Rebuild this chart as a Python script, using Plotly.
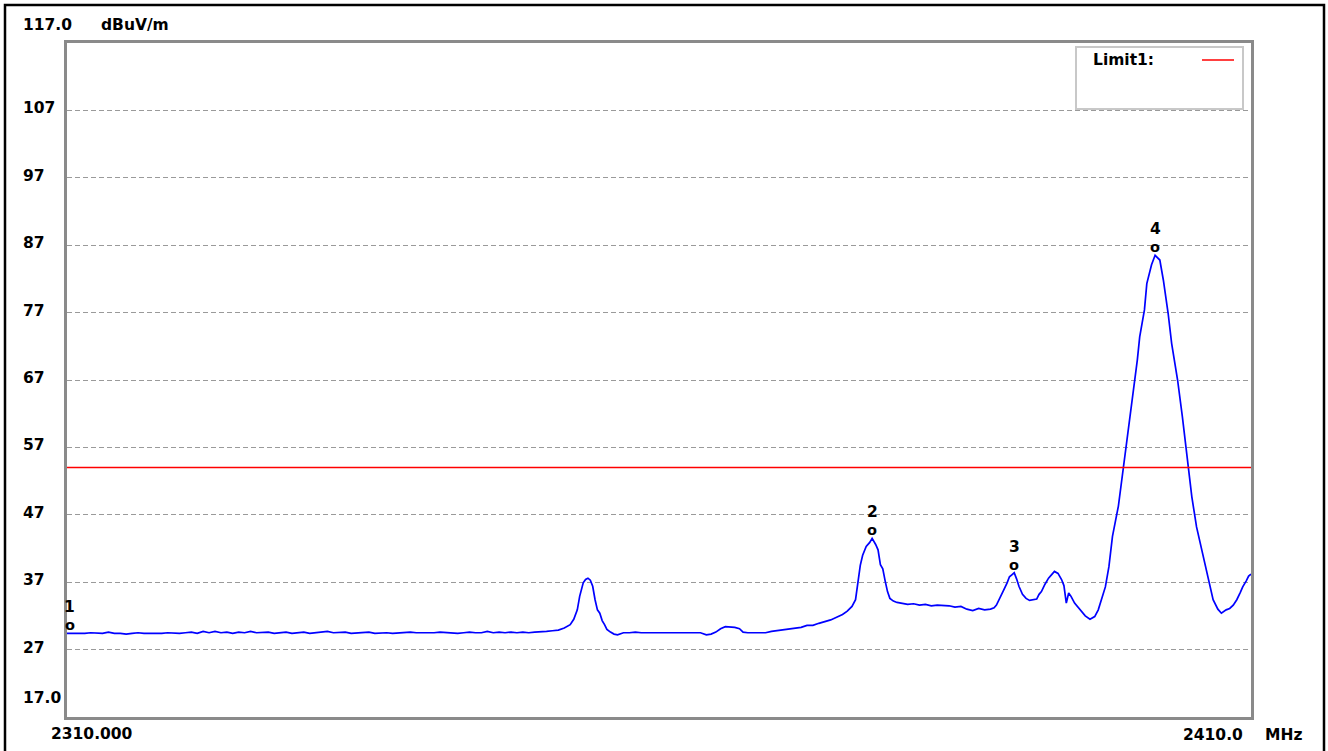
import plotly.graph_objects as go

# ---------------- data ----------------
freq_mhz = [
    2310.0, 2310.5, 2311.0, 2311.5, 2312.0, 2312.5, 2313.0, 2313.5, 2314.0, 2314.5,
    2315.0, 2315.5, 2316.0, 2316.5, 2317.0, 2317.5, 2318.0, 2318.5, 2319.0, 2319.5,
    2320.0, 2320.5, 2321.0, 2321.5, 2322.0, 2322.5, 2323.0, 2323.5, 2324.0, 2324.5,
    2325.0, 2325.5, 2326.0, 2326.5, 2327.0, 2327.5, 2328.0, 2328.5, 2329.0, 2329.5,
    2330.0, 2330.5, 2331.0, 2331.5, 2332.0, 2332.5, 2333.0, 2333.5, 2334.0, 2334.5,
    2335.0, 2335.5, 2336.0, 2336.5, 2337.0, 2337.5, 2338.0, 2338.5, 2339.0, 2339.5,
    2340.0, 2340.5, 2341.0, 2341.5, 2342.0, 2342.5, 2343.0, 2343.5, 2344.0, 2344.5,
    2345.0, 2345.5, 2346.0, 2346.5, 2347.0, 2347.5, 2348.0, 2348.5, 2349.0, 2349.5,
    2350.0, 2350.5, 2351.0, 2351.5,
    2352.0, 2352.5, 2352.8, 2353.1, 2353.3, 2353.6, 2353.8, 2354.0, 2354.2, 2354.4,
    2354.6, 2354.8, 2355.0, 2355.2, 2355.4, 2355.6, 2355.9, 2356.2, 2356.5,
    2357.0, 2357.5, 2358.0, 2358.5, 2359.0, 2359.5, 2360.0, 2360.5, 2361.0, 2361.5,
    2362.0, 2362.5, 2363.0, 2363.5, 2364.0, 2364.4, 2364.8, 2365.2, 2365.6, 2366.0,
    2366.4, 2366.8, 2367.1, 2367.5, 2368.0, 2368.5, 2369.0, 2369.5, 2370.0, 2370.5,
    2371.0, 2371.5, 2372.0, 2372.5, 2373.0, 2373.5, 2374.0, 2374.5, 2375.0, 2375.5,
    2375.9, 2376.3, 2376.6, 2376.8, 2377.0, 2377.2, 2377.5, 2377.8, 2378.0, 2378.3,
    2378.5, 2378.7, 2378.9, 2379.1, 2379.3, 2379.5, 2379.8, 2380.1, 2380.5, 2381.0,
    2381.5, 2382.0, 2382.5, 2383.0, 2383.5, 2384.0, 2384.5, 2385.0, 2385.5, 2386.0,
    2386.5, 2387.0, 2387.5, 2388.0, 2388.3, 2388.5, 2388.8, 2389.1, 2389.4, 2389.6,
    2389.8, 2390.0, 2390.2, 2390.4, 2390.7, 2391.0, 2391.3, 2391.6, 2391.9, 2392.1,
    2392.3, 2392.6, 2392.9, 2393.2, 2393.4, 2393.7, 2394.0, 2394.2, 2394.4, 2394.6,
    2394.8, 2395.1, 2395.4, 2395.7, 2396.0, 2396.4, 2396.8, 2397.1, 2397.4, 2397.7,
    2398.0, 2398.3, 2398.8, 2399.2, 2399.6, 2400.0, 2400.4, 2400.6, 2401.0, 2401.2,
    2401.6, 2401.9, 2402.3, 2402.6, 2403.0, 2403.3, 2403.8, 2404.2, 2404.6, 2405.0,
    2405.4, 2405.9, 2406.3, 2406.8, 2407.2, 2407.5, 2407.9, 2408.2, 2408.5, 2408.8,
    2409.1, 2409.3, 2409.6, 2409.8, 2410.0,
]
level_dbuv = [
    29.4, 29.4, 29.3, 29.4, 29.5, 29.4, 29.4, 29.6, 29.4, 29.4,
    29.3, 29.4, 29.5, 29.4, 29.4, 29.3, 29.4, 29.5, 29.4, 29.4,
    29.5, 29.6, 29.4, 29.7, 29.5, 29.7, 29.5, 29.6, 29.4, 29.6,
    29.5, 29.7, 29.5, 29.5, 29.6, 29.4, 29.5, 29.6, 29.4, 29.5,
    29.6, 29.4, 29.5, 29.5, 29.7, 29.5, 29.5, 29.6, 29.4, 29.5,
    29.5, 29.6, 29.4, 29.5, 29.5, 29.4, 29.5, 29.5, 29.6, 29.5,
    29.5, 29.4, 29.5, 29.6, 29.5, 29.5, 29.4, 29.5, 29.6, 29.5,
    29.5, 29.7, 29.5, 29.6, 29.5, 29.6, 29.5, 29.6, 29.5, 29.6,
    29.6, 29.7, 29.8, 29.9,
    30.2, 30.7, 31.5, 32.9, 34.9, 36.9, 37.4, 37.6, 37.3, 36.4,
    34.4, 32.9, 32.4, 31.3, 30.7, 30.0, 29.6, 29.3, 29.2,
    29.5, 29.5, 29.6, 29.5, 29.5, 29.6, 29.5, 29.6, 29.5, 29.5,
    29.5, 29.5, 29.5, 29.5, 29.2, 29.3, 29.6, 30.1, 30.4, 30.4,
    30.3, 30.1, 29.6, 29.5, 29.5, 29.4, 29.5, 29.7, 29.8, 30.0,
    30.0, 30.2, 30.3, 30.6, 30.6, 30.9, 31.1, 31.4, 31.8, 32.2,
    32.7, 33.4, 34.4, 37.0, 39.5, 41.0, 42.3, 42.9, 43.5, 42.6,
    41.8, 39.6, 39.0, 37.2, 35.6, 34.6, 34.2, 34.0, 33.9, 33.7,
    33.8, 33.6, 33.7, 33.5, 33.6, 33.6, 33.5, 33.3, 33.4, 33.0,
    32.8, 33.1, 32.9, 33.0, 33.2, 33.6, 34.6, 35.8, 36.9, 37.8,
    38.1, 38.4, 37.5, 36.4, 35.2, 34.6, 34.3, 34.4, 34.5, 35.2,
    35.6, 36.7, 37.6, 38.2, 38.6, 38.3, 37.4, 36.5, 33.9, 35.4,
    34.9, 33.9, 33.3, 32.6, 32.0, 31.5, 31.9, 32.9, 34.5, 36.3,
    39.3, 43.8, 48.3, 53.8, 58.7, 64.0, 70.0, 73.4, 77.4, 81.3,
    84.1, 85.5, 84.8, 81.8, 76.9, 72.4, 67.0, 61.6, 55.6, 49.7,
    45.2, 41.3, 37.8, 34.4, 33.0, 32.4, 32.9, 33.1, 33.6, 34.4,
    35.5, 36.3, 37.2, 37.9, 38.2,
]

limit_freq = [2310.0, 2410.0]
limit_level = [54.0, 54.0]
limit_name = "Limit1:"

marker_ids = ["1", "2", "3", "4"]
marker_freq = [2310.25, 2378.0, 2390.0, 2401.9]
marker_level = [29.4, 43.5, 38.4, 85.5]

y_range = [17.0, 117.0]
y_grid_ticks = [27, 37, 47, 57, 67, 77, 87, 97, 107]
y_tick_labels = ["27", "37", "47", "57", "67", "77", "87", "97", "107"]
y_bottom_label = "17.0"
y_top_label = "117.0"
y_unit = "dBuV/m"
x_range = [2310.0, 2410.0]
x_start_label = "2310.000"
x_end_label = "2410.0"
x_unit = "MHz"

# ---------------- layout helpers ----------------
W, H = 1328, 751
L, R, T, B = 67, 1251, 43, 717


def px(x):
    return (x - L) / (R - L)


def py(y):
    return (B - y) / (B - T)


FONT = "DejaVu Sans"
TXT = dict(family=FONT, size=15.5, color="#000000")

fig = go.Figure()

fig.add_trace(go.Scatter(
    x=freq_mhz, y=level_dbuv, mode="lines",
    line=dict(color="#0000ff", width=1.7), hoverinfo="skip", showlegend=False,
))
fig.add_trace(go.Scatter(
    x=limit_freq, y=limit_level, mode="lines",
    line=dict(color="#ff0000", width=1.5), hoverinfo="skip", showlegend=False,
))

annotations = []
# marker labels ("o" and number above)
for mid, mf, ml in zip(marker_ids, marker_freq, marker_level):
    annotations.append(dict(x=mf, y=ml, xref="x", yref="y", text="<b>o</b>",
                            showarrow=False, yshift=8, font=dict(family=FONT, size=14.5, color="#000")))
    annotations.append(dict(x=mf, y=ml, xref="x", yref="y", text="<b>" + mid + "</b>",
                            showarrow=False, yshift=26, font=dict(family=FONT, size=15.5, color="#000")))

# y tick labels (left aligned at fixed x)
for v, lab in zip(y_grid_ticks, y_tick_labels):
    annotations.append(dict(x=px(21), y=v, xref="paper", yref="y", text="<b>" + lab + "</b>",
                            xanchor="left", yanchor="middle", showarrow=False, yshift=2, font=TXT))
annotations.append(dict(x=px(21), y=y_range[0], xref="paper", yref="y", text="<b>" + y_bottom_label + "</b>",
                        xanchor="left", yanchor="middle", showarrow=False, yshift=19, font=TXT))
annotations.append(dict(x=px(21), y=y_range[1], xref="paper", yref="y", text="<b>" + y_top_label + "</b>",
                        xanchor="left", yanchor="middle", showarrow=False, yshift=18, font=TXT))
annotations.append(dict(x=px(99), y=y_range[1], xref="paper", yref="y", text="<b>" + y_unit + "</b>",
                        xanchor="left", yanchor="middle", showarrow=False, yshift=18, font=TXT))
# x labels
annotations.append(dict(x=x_range[0], y=py(734), xref="x", yref="paper", text="<b>" + x_start_label + "</b>",
                        xanchor="left", yanchor="middle", showarrow=False, xshift=-18, font=TXT))
annotations.append(dict(x=x_range[1], y=py(735), xref="x", yref="paper", text="<b>" + x_end_label + "</b>",
                        xanchor="right", yanchor="middle", showarrow=False, xshift=-6, font=TXT))
annotations.append(dict(x=x_range[1], y=py(735), xref="x", yref="paper", text="<b>" + x_unit + "</b>",
                        xanchor="left", yanchor="middle", showarrow=False, xshift=12, font=TXT))
# legend text
annotations.append(dict(x=px(1091), y=py(60), xref="paper", yref="paper", text="<b>" + limit_name + "</b>",
                        xanchor="left", yanchor="middle", showarrow=False, font=TXT))

shapes = [
    # outer black frame
    dict(type="rect", xref="paper", yref="paper", x0=px(5), x1=px(1324), y0=py(5), y1=py(760),
         line=dict(color="#000000", width=2.5), fillcolor="rgba(0,0,0,0)", layer="above"),
    # legend box
    dict(type="rect", xref="paper", yref="paper", x0=px(1076), x1=px(1243), y0=py(47), y1=py(109),
         line=dict(color="#c8c8c8", width=2), fillcolor="#ffffff", layer="above"),
    # legend swatch
    dict(type="line", xref="paper", yref="paper", x0=px(1202), x1=px(1234), y0=py(60), y1=py(60),
         line=dict(color="#ff0000", width=1.5), layer="above"),
]

fig.update_layout(
    width=W, height=H,
    margin=dict(l=L, r=W - R, t=T, b=H - B, pad=0),
    paper_bgcolor="#ffffff", plot_bgcolor="#ffffff",
    showlegend=False,
    annotations=annotations,
    shapes=shapes,
    xaxis=dict(range=x_range, showgrid=False, zeroline=False, showticklabels=False, ticks="",
               showline=True, mirror=True, linecolor="#8a8a8a", linewidth=3, fixedrange=True),
    yaxis=dict(range=y_range, tickvals=y_grid_ticks, showgrid=True, gridcolor="#9a9a9a", gridwidth=1.2,
               griddash="5px,3px", zeroline=False, showticklabels=False, ticks="",
               showline=True, mirror=True, linecolor="#8a8a8a", linewidth=3, fixedrange=True),
)

fig.write_html(
    "out.html",
    config={"displayModeBar": False},
    post_script="document.body.style.margin='0';document.body.style.overflow='hidden';",
)
